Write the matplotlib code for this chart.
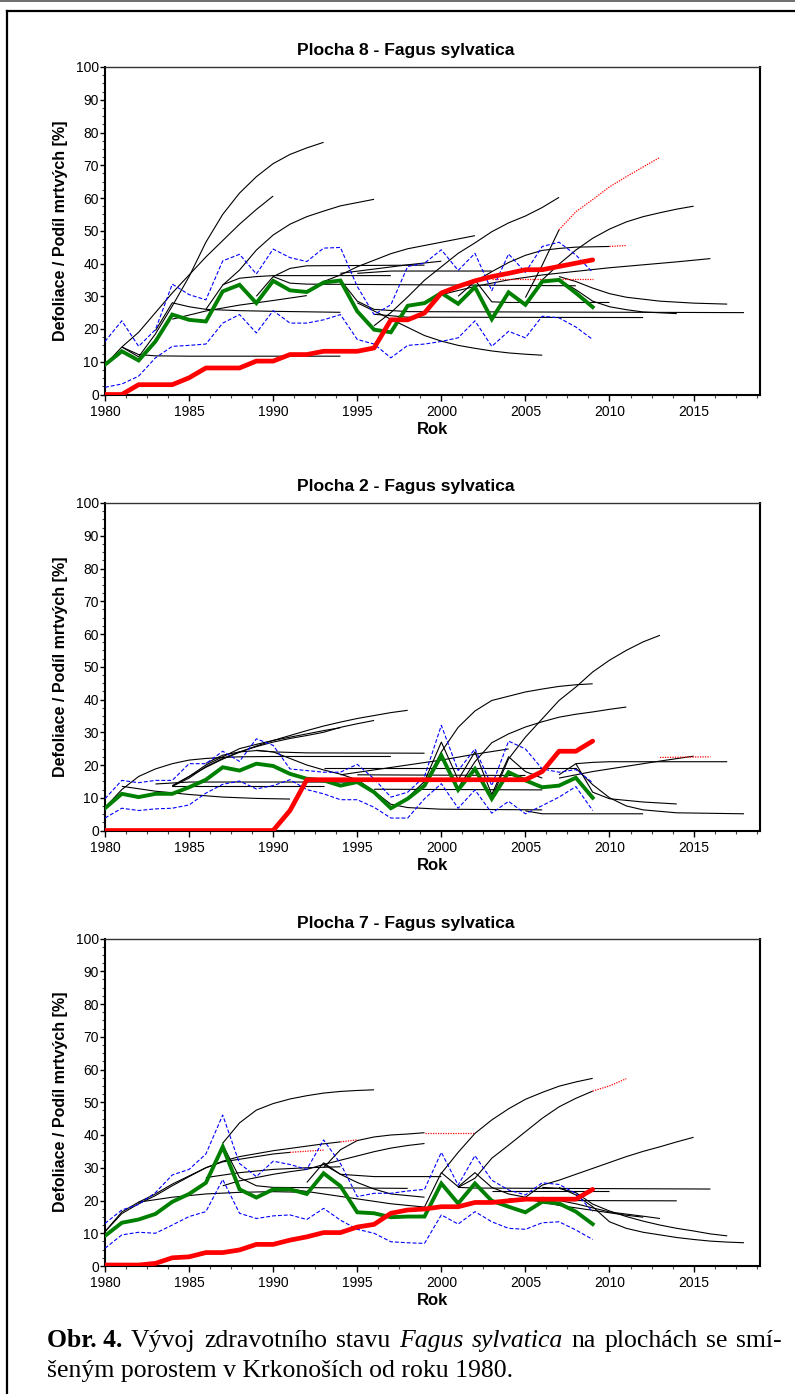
import matplotlib
matplotlib.use('Agg')
import matplotlib.pyplot as plt
from matplotlib.ticker import MultipleLocator
from matplotlib.lines import Line2D

plt.rcParams['font.family'] = ['Liberation Sans', 'DejaVu Sans']

# ---------------- DATA ----------------
years = list(range(1980, 2010))

# Plocha 8
p8_green = [9.1, 13.2, 10.4, 16.2, 24.4, 22.8, 22.3, 31.5, 33.5, 27.9, 34.7, 31.8, 31.3, 34.2, 34.8,
            25.4, 19.8, 19.0, 27.1, 27.9, 31.0, 27.7, 32.8, 23.0, 31.2, 27.4, 34.5, 35.0, 31.0, 26.7]
p8_red = [0, 0, 3.0, 3.0, 3.0, 5.1, 8.1, 8.1, 8.1, 10.2, 10.2, 12.2, 12.2, 13.2, 13.2,
          13.2, 14.2, 22.8, 22.8, 24.9, 31.0, 33.0, 34.7, 36.0, 37.0, 38.1, 38.1, 39.1, 40.1, 41.1]
p8_blue_hi = [16.2, 22.5, 14.7, 19.8, 33.7, 30.5, 28.9, 40.8, 42.8, 36.8, 44.4, 41.8, 40.6, 44.7, 44.9,
              33.0, 24.4, 27.4, 39.1, 40.1, 44.2, 37.9, 43.1, 31.7, 42.9, 37.3, 45.2, 46.5, 42.6, 37.3]
p8_blue_lo = [2.2, 3.2, 5.6, 11.2, 14.7, 15.0, 15.4, 21.8, 24.4, 18.8, 25.6, 21.8, 21.8, 22.8, 24.4,
              16.8, 15.4, 11.2, 15.0, 15.4, 16.2, 17.3, 22.5, 14.7, 19.3, 17.3, 23.9, 23.4, 20.6, 16.8]
p8_black = [
    [(1980, 9), (1981, 14.5), (1982, 19), (1983, 25), (1984, 31), (1985, 36.5), (1986, 42), (1987, 47), (1988, 52), (1989, 56.5), (1990, 60.6)],
    [(1981, 14.5), (1982, 11.5), (1983, 18.5), (1984, 27), (1985, 36), (1986, 46.5), (1987, 55), (1988, 61.5), (1989, 66.5), (1990, 70.5), (1991, 73.3), (1992, 75.3), (1993, 77)],
    [(1981, 14.5), (1982, 12.2), (1983, 11.8), (1985, 11.7), (1994, 11.7)],
    [(1983, 19.5), (1984, 28), (1985, 26.8), (1986, 26), (1988, 25.6), (1990, 25.4), (1994, 25.1)],
    [(1984, 23), (1986, 25.5), (1988, 27.3), (1990, 28.7), (1992, 30.2)],
    [(1986, 26), (1987, 33.4), (1988, 38), (1989, 44.1), (1990, 48.7), (1991, 52), (1992, 54.3), (1993, 56), (1994, 57.6), (1995, 58.6), (1996, 59.6)],
    [(1987, 33.5), (1988, 35.5), (1989, 36), (1990, 36.3), (1997, 36.3)],
    [(1989, 30), (1990, 36), (1991, 38.5), (1992, 39.3), (1999, 39.5)],
    [(1990, 36), (1991, 34), (1992, 33.7), (2008, 33.2)],
    [(1993, 34.5), (1994, 36.5), (1995, 39), (1996, 41), (1997, 43), (1998, 44.5), (1999, 45.5), (2000, 46.5), (2001, 47.5), (2002, 48.5)],
    [(1994, 35), (1995, 28.5), (1996, 26), (1998, 25.3), (2018, 25.0)],
    [(1995, 28), (1996, 25.5), (1997, 23), (1998, 20.5), (1999, 18), (2000, 16.3), (2001, 15), (2002, 14.1), (2003, 13.3), (2004, 12.7), (2005, 12.3), (2006, 12.0)],
    [(1996, 21), (1997, 25), (1998, 29.8), (1999, 34.9), (2000, 39), (2001, 43.1), (2002, 46.3), (2003, 49.7), (2004, 52.4), (2005, 54.5), (2006, 57.1), (2007, 60.2)],
    [(1996, 24.5), (1998, 23.6), (2012, 23.5)],
    [(2000, 30.5), (2002, 33), (2004, 35), (2006, 36.5), (2008, 37.6), (2010, 38.7), (2012, 39.6), (2014, 40.5), (2016, 41.5)],
    [(2001, 30), (2002, 34.5), (2003, 37.5), (2004, 40.3), (2005, 42.5), (2006, 44), (2007, 44.6), (2008, 45), (2010, 45.2)],
    [(2002, 34.9), (2003, 28.3), (2004, 28.1), (2010, 28.1)],
    [(2005, 27.5), (2006, 35), (2007, 39.8), (2008, 44.1), (2009, 47.7), (2010, 50.5), (2011, 52.7), (2012, 54.3), (2013, 55.5), (2014, 56.6), (2015, 57.5)],
    [(2005, 29.6), (2006, 39.5), (2007, 50.3)],
    [(2007, 35), (2008, 32), (2009, 28.5), (2010, 26.8), (2011, 25.9), (2012, 25.2), (2014, 24.7)],
    [(2007, 36), (2008, 34.5), (2009, 32.5), (2010, 30.8), (2011, 29.7), (2013, 28.5), (2015, 27.9), (2017, 27.6)],
    [(1994, 37), (1996, 38.3), (1998, 39.6), (2000, 40.7)],
    [(1995, 37), (1997, 37.7), (2003, 37.7)],
]
p8_dotted = [
    [(2007, 50.3), (2008, 55.8), (2009, 59.5), (2010, 63.4), (2011, 66.5), (2012, 69.5), (2013, 72.4)],
    [(2010, 45.2), (2011, 45.5)],
    [(2003, 35.4), (2009, 35.4)],
]

# Plocha 2
p2_green = [6.8, 11.2, 10.2, 11.2, 11.2, 13.2, 15.5, 19.3, 18.3, 20.4, 19.7, 17.3, 15.8, 15.3, 13.7,
            14.8, 11.7, 6.8, 9.7, 13.7, 22.9, 12.4, 18.8, 9.7, 17.8, 15.3, 13.2, 13.7, 16.1, 10.0]
p2_red = [0, 0, 0, 0, 0, 0, 0, 0, 0, 0, 0, 6.1, 15.5, 15.5, 15.5,
          15.5, 15.5, 15.5, 15.5, 15.5, 15.5, 15.5, 15.5, 15.5, 15.5, 15.5, 18.0, 24.2, 24.2, 27.3]
p2_blue_hi = [9.7, 15.3, 14.6, 15.3, 15.3, 20.4, 20.4, 24.2, 21.1, 28.0, 26.0, 18.8, 18.3, 17.8, 17.8,
              20.2, 15.8, 10.2, 11.7, 16.5, 32.1, 18.3, 24.9, 13.7, 27.3, 24.9, 18.8, 17.8, 18.6, 14.6]
p2_blue_lo = [3.8, 6.8, 6.1, 6.6, 6.8, 7.8, 11.4, 14.1, 15.1, 12.7, 13.7, 15.5, 12.5, 11.2, 9.4,
              9.4, 7.1, 3.8, 3.8, 9.7, 14.3, 6.8, 12.4, 5.3, 8.9, 5.1, 7.6, 10.2, 13.4, 6.1]
p2_black = [
    [(1980, 7), (1981, 12.5), (1982, 16.5), (1983, 18.8), (1984, 20.4), (1985, 21.5), (1986, 22), (1987, 22.3), (1988, 22.5), (1990, 22.6), (1997, 22.6)],
    [(1986, 20.5), (1987, 23), (1988, 24), (1989, 24.4), (1990, 24), (1992, 23.7), (1999, 23.6)],
    [(1984, 13.7), (1985, 16.5), (1986, 19.3), (1987, 21.8), (1988, 23.9), (1989, 25.8), (1990, 27.5), (1991, 29), (1992, 30.5), (1993, 31.9), (1994, 33.1), (1995, 34.2), (1996, 35.1), (1997, 36), (1998, 36.7)],
    [(1984, 13.5), (1985, 16), (1986, 19.5), (1987, 22), (1988, 24), (1989, 25.6), (1990, 27), (1991, 28.1), (1992, 29), (1993, 30), (1994, 31.5), (1995, 32.6), (1996, 33.6)],
    [(1984, 13.5), (1985, 16.5), (1986, 20), (1987, 22.5), (1988, 25), (1989, 26.3), (1990, 27.5), (1991, 28.5), (1992, 29.5), (1993, 30.5), (1994, 31.4)],
    [(1981, 13.5), (1983, 12), (1985, 11), (1987, 10.2), (1989, 9.8), (1991, 9.6)],
    [(1983, 14.2), (1985, 14.8), (1995, 14.8)],
    [(1984, 13.5), (1993, 13.5)],
    [(1989, 24.5), (1990, 24), (1991, 22), (1992, 20), (1993, 18.5), (1994, 17.2), (1995, 15.5), (1996, 12), (1997, 8), (1998, 7), (2000, 6.5), (2006, 6.3)],
    [(1994, 17), (1996, 18.5), (1998, 20), (2000, 21.5), (2002, 23.3), (2004, 24.9)],
    [(1993, 19), (2008, 19)],
    [(1995, 17), (2005, 16.8)],
    [(1996, 12.6), (2006, 12.4)],
    [(2005, 6), (2006, 5.1), (2012, 5.1)],
    [(2003, 10), (2004, 21.9), (2005, 28.5), (2006, 34.1), (2007, 39.7), (2008, 43.8), (2009, 48.4), (2010, 52), (2011, 55), (2012, 57.6), (2013, 59.6)],
    [(1999, 14), (2000, 24), (2001, 31.5), (2002, 36.5), (2003, 39.7), (2004, 41), (2005, 42.3), (2006, 43.2), (2007, 44), (2008, 44.5), (2009, 44.8)],
    [(2001, 13), (2002, 21), (2003, 26.8), (2004, 29.5), (2005, 31.6), (2006, 33.2), (2007, 34.6), (2008, 35.5), (2009, 36.2), (2010, 37), (2011, 37.7)],
    [(2007, 17), (2008, 20.4), (2009, 20.8), (2010, 21), (2017, 21)],
    [(2007, 16), (2009, 18), (2011, 19.6), (2013, 21.2), (2015, 22.7)],
    [(2008, 20.4), (2009, 11.7), (2010, 9.7), (2012, 8.7), (2014, 8.1)],
    [(2008, 19), (2009, 14), (2010, 10), (2011, 7.5), (2012, 6.3), (2014, 5.4), (2018, 5.1)],
    [(1998, 10), (1999, 15), (2000, 27), (2001, 15.5), (2002, 24), (2003, 11), (2004, 22.5), (2005, 18), (2006, 16)],
]
p2_dotted = [
    [(2013, 22.3), (2016, 22.5)],
]

# Plocha 7
p7_green = [9.2, 13.2, 14.2, 15.9, 19.6, 22.0, 25.4, 36.4, 23.4, 20.9, 23.4, 23.4, 22.0, 28.3, 24.4,
            16.4, 16.1, 14.9, 15.1, 15.1, 25.2, 19.1, 25.2, 19.9, 18.1, 16.4, 19.6, 19.1, 16.6, 12.8]
p7_red = [0.3, 0.3, 0.3, 0.8, 2.5, 2.8, 4.1, 4.1, 4.9, 6.6, 6.6, 7.9, 8.9, 10.2, 10.2,
          11.9, 12.7, 16.1, 17.1, 17.4, 18.1, 18.1, 19.4, 19.4, 19.9, 20.4, 20.4, 20.4, 20.4, 23.4]
p7_blue_hi = [13.0, 17.1, 18.8, 22.4, 27.8, 29.5, 34.2, 46.1, 31.3, 27.3, 32.0, 31.0, 29.5, 38.5, 31.3,
              21.2, 22.2, 22.2, 22.9, 23.4, 34.7, 24.7, 33.7, 26.2, 23.2, 21.7, 25.4, 24.9, 22.2, 16.6]
p7_blue_lo = [5.4, 9.5, 10.3, 10.0, 12.5, 15.1, 16.6, 26.4, 16.1, 14.5, 15.3, 15.6, 14.2, 17.6, 14.0,
              11.2, 10.0, 7.4, 7.1, 6.9, 15.6, 12.8, 16.6, 13.5, 11.5, 11.2, 13.2, 13.5, 11.0, 8.1]
p7_black = [
    [(1987, 37.5), (1988, 43.7), (1989, 47.6), (1990, 49.6), (1991, 51), (1992, 52), (1993, 52.8), (1994, 53.3), (1995, 53.6), (1996, 53.8)],
    [(1993, 30), (1994, 35.5), (1995, 38.3), (1996, 39.4), (1997, 40), (1998, 40.3), (1999, 40.7)],
    [(1980, 10.5), (1981, 16), (1982, 19), (1983, 21.5), (1984, 24.5), (1985, 27.3), (1986, 30), (1987, 32), (1988, 33.4), (1989, 34.3), (1990, 35.2), (1991, 35.9), (1992, 36.6), (1993, 37.3), (1994, 37.9)],
    [(1980, 10.5), (1981, 16.5), (1982, 19.5), (1983, 22), (1984, 25), (1985, 27.5), (1986, 30), (1987, 31.8), (1988, 32.6), (1989, 33.4), (1990, 34.2), (1991, 34.7)],
    [(1987, 24.5), (1988, 26), (1989, 27), (1990, 28), (1991, 28.8), (1992, 29.5), (1993, 31), (1994, 32.3), (1995, 33.6), (1996, 34.9), (1997, 36), (1998, 36.8), (1999, 37.4)],
    [(1986, 27), (1988, 28.5), (1990, 29.5), (1992, 30), (1994, 30.3)],
    [(1992, 25.5), (1993, 31.5), (1994, 28), (1996, 27.3), (2000, 27.3)],
    [(1987, 37), (1988, 27), (1989, 24.5), (1990, 24), (1998, 23.7)],
    [(1982, 19.5), (1984, 21), (1986, 22), (1988, 22.5), (1990, 22.7), (1992, 22.5)],
    [(1991, 23.5), (1993, 22), (1995, 20.5), (1997, 19), (1999, 18)],
    [(1993, 31), (1994, 28), (1995, 25.5), (1996, 23.5), (1997, 22), (1998, 21.5), (1999, 21)],
    [(1999, 18), (2000, 28.5), (2001, 24.2), (2002, 28.5), (2003, 24), (2004, 22), (2005, 21)],
    [(2001, 24), (2002, 23.8), (2016, 23.5)],
    [(2003, 23), (2010, 23)],
    [(2004, 20.5), (2006, 20), (2014, 19.9)],
    [(2006, 21), (2008, 19), (2010, 16.5), (2012, 15.2), (2013, 14.5)],
    [(2005, 20.5), (2007, 18.5), (2009, 17), (2011, 15.5), (2012, 14.9)],
    [(2006, 24), (2007, 23.7), (2008, 22.4), (2009, 18.9), (2010, 16.8), (2011, 15.1), (2012, 13.7), (2013, 12.5), (2014, 11.5), (2015, 10.7), (2016, 9.8), (2017, 9.2)],
    [(2007, 24), (2008, 21.7), (2009, 18.1), (2010, 13.5), (2011, 11.5), (2012, 10.3), (2013, 9.5), (2014, 8.7), (2015, 8.1), (2016, 7.6), (2017, 7.3), (2018, 7.1)],
    [(2000, 28.3), (2001, 34.7), (2002, 40.5), (2003, 44.6), (2004, 48), (2005, 50.9), (2006, 53), (2007, 54.9), (2008, 56.2), (2009, 57.3)],
    [(2001, 24), (2002, 26.8), (2003, 32.9), (2004, 36.9), (2005, 41), (2006, 45.1), (2007, 48.6), (2008, 51.2), (2009, 53.4)],
    [(2005, 21), (2006, 24.7), (2007, 26.2), (2008, 28), (2009, 29.8), (2010, 31.6), (2011, 33.4), (2012, 35), (2013, 36.4), (2014, 37.9), (2015, 39.3)],
]
p7_dotted = [
    [(1999, 40.7), (2002, 40.7)],
    [(1994, 37.9), (1995, 38.5)],
    [(1991, 34.7), (1993, 35.4)],
    [(2009, 53.4), (2010, 55), (2011, 57.2)],
]

titles = ['Plocha 8 - Fagus sylvatica', 'Plocha 2 - Fagus sylvatica', 'Plocha 7 - Fagus sylvatica']
ylabel = 'Defoliace / Podíl mrtvých [%]'
xlabel = 'Rok'

# ---------------- LAYOUT ----------------
W, H = 795, 1394
fig = plt.figure(figsize=(W / 100, H / 100), dpi=100)
fig.patch.set_facecolor('white')

AX_L, AX_R = 105, 760
panels = [
    dict(top=67, bottom=394.5, title_y=51, green=p8_green, red=p8_red, hi=p8_blue_hi, lo=p8_blue_lo,
         black=p8_black, dotted=p8_dotted, title=titles[0]),
    dict(top=503, bottom=830.5, title_y=487, green=p2_green, red=p2_red, hi=p2_blue_hi, lo=p2_blue_lo,
         black=p2_black, dotted=p2_dotted, title=titles[1]),
    dict(top=938.5, bottom=1266, title_y=923.5, green=p7_green, red=p7_red, hi=p7_blue_hi, lo=p7_blue_lo,
         black=p7_black, dotted=p7_dotted, title=titles[2]),
]

for p in panels:
    ax = fig.add_axes([AX_L / W, 1 - p['bottom'] / H, (AX_R - AX_L) / W, (p['bottom'] - p['top']) / H])
    for line in p['black']:
        xs = [a for a, b in line]
        ys = [b for a, b in line]
        ax.plot(xs, ys, color='black', lw=0.8, zorder=2, solid_capstyle='butt')
    for line in p['dotted']:
        xs = [a for a, b in line]
        ys = [b for a, b in line]
        ax.plot(xs, ys, color='red', lw=0.9, ls=(0, (1, 1)), zorder=2)
    ax.plot(years, p['hi'], color='#0000ff', lw=0.8, ls=(0, (3.5, 1.8)), zorder=3)
    ax.plot(years, p['lo'], color='#0000ff', lw=0.8, ls=(0, (3.5, 1.8)), zorder=3)
    ax.plot(years, p['green'], color='#008000', lw=2.8, zorder=4, solid_joinstyle='miter')
    ax.plot(years, p['red'], color='#ff0000', lw=3.4, zorder=5, solid_capstyle='round')

    ax.set_xlim(1980, 2018.95)
    ax.set_ylim(0, 100)
    ax.xaxis.set_major_locator(MultipleLocator(5))
    ax.xaxis.set_minor_locator(MultipleLocator(1.25))
    ax.yaxis.set_major_locator(MultipleLocator(10))
    ax.yaxis.set_minor_locator(MultipleLocator(2.5))
    ax.tick_params(axis='x', which='major', length=4, width=1.0, labelsize=10, pad=3.5, direction='out')
    ax.tick_params(axis='y', which='major', length=3.5, width=1.0, labelsize=10, pad=1, direction='out')
    ax.tick_params(which='minor', length=2.2, width=0.8, direction='out', color='#444444')
    for s in ['left', 'bottom', 'right']:
        ax.spines[s].set_linewidth(1.5)
        ax.spines[s].set_color('black')
    ax.spines['top'].set_linewidth(1.0)
    ax.spines['top'].set_color('#333333')

    fig.text(406 / W, 1 - p['title_y'] / H, p['title'], ha='center', va='center',
             fontsize=12.6, fontweight='bold')
    fig.text(433 / W, 1 - (p['bottom'] + 34.5) / H, xlabel, ha='center', va='center',
             fontsize=12, fontweight='bold')
    fig.text(61 / W, 1 - ((p['top'] + p['bottom']) / 2) / H, ylabel, ha='center', va='center',
             rotation=90, fontsize=11.5, fontweight='bold')

# outer frame lines
fig.add_artist(Line2D([0, 1], [1 - 0.8 / H] * 2, transform=fig.transFigure, color='#555555', lw=1.2))
fig.add_artist(Line2D([7 / W, 1], [1 - 11 / H] * 2, transform=fig.transFigure, color='black', lw=1.6))
fig.add_artist(Line2D([7 / W, 7 / W], [1 - 11 / H, 0], transform=fig.transFigure, color='black', lw=1.6))

# ---------------- CAPTION ----------------
serif = ['Liberation Serif', 'DejaVu Serif']
cap_size = 18.5
renderer = fig.canvas.get_renderer()


def text_width(s, **kw):
    t = fig.text(0, 0, s, fontsize=cap_size, family=serif, **kw)
    w = t.get_window_extent(renderer=renderer).width
    t.remove()
    return w


space_w = text_width('a a') - text_width('aa')

line1 = [('Obr. 4.', dict(fontweight='bold')), ('Vývoj', {}), ('zdravotního', {}), ('stavu', {}),
         ('Fagus', dict(style='italic')), ('sylvatica', dict(style='italic')),
         ('na', {}), ('plochách', {}), ('se', {}), ('smí-', {})]
line2 = [('šeným porostem v Krkonoších od roku 1980.', {})]


def draw_line(runs, x0, base, right=None):
    widths = [text_width(s, **kw) for s, kw in runs]
    gap = space_w
    if right is not None and len(runs) > 1:
        total = sum(widths) + space_w * (len(runs) - 1)
        gap = space_w + (right - x0 - total) / (len(runs) - 1)
    x = x0
    for (s, kw), w in zip(runs, widths):
        fig.text(x / W, 1 - base / H, s, fontsize=cap_size, family=serif, ha='left', va='baseline', **kw)
        x += w + gap


draw_line(line1, 47, 1347, right=782)
draw_line(line2, 47, 1377)

fig.savefig('out.png', dpi=100, facecolor='white')
